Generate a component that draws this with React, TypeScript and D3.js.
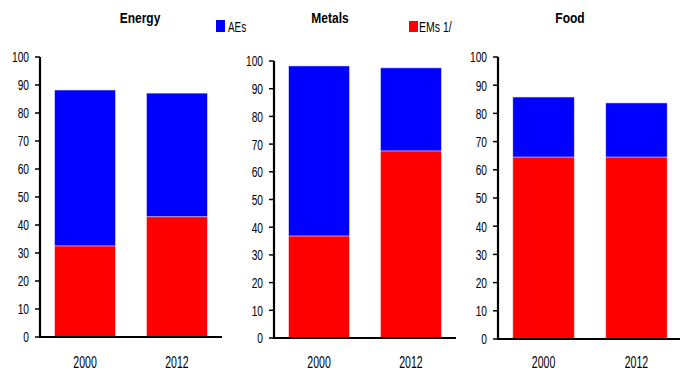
import React from "react";
import * as d3 from "d3";

const panels = ["Energy", "Metals", "Food"];
const years = ["2000", "2012"];
const emsValues = [
  [32.5, 42.9],
  [36.8, 67.5],
  [64.5, 64.5],
];
const aesValues = [
  [55.7, 44.2],
  [61.4, 30.0],
  [21.3, 19.2],
];
const yTicks = [0, 10, 20, 30, 40, 50, 60, 70, 80, 90, 100];
const seriesNames = ["AEs", "EMs 1/"];
const colors = { AEs: "#0000FF", EMs: "#FF0000" };

const layout = [
  { axisX: 40, right: 222, top: 57, bottom: 337, titleX: 140 },
  { axisX: 274, right: 456, top: 61, bottom: 338, titleX: 330 },
  { axisX: 498, right: 682, top: 57, bottom: 339, titleX: 570 },
];

const FONT = "'Liberation Sans', Arial, sans-serif";

function NText({
  x,
  y,
  sx = 0.68,
  size = 15,
  anchor = "start",
  bold = false,
  dy,
  children,
}: {
  x: number;
  y: number;
  sx?: number;
  size?: number;
  anchor?: string;
  bold?: boolean;
  dy?: string;
  children: React.ReactNode;
}) {
  return (
    <text
      transform={`translate(${x},${y}) scale(${sx},1)`}
      textAnchor={anchor as any}
      fontFamily={FONT}
      fontSize={size}
      fontWeight={bold ? "bold" : "normal"}
      dy={dy}
      fill="#000"
    >
      {children}
    </text>
  );
}

export default function App() {
  return (
    <svg width={680} height={375} style={{ position: "absolute", left: 0, top: 0, background: "#fff" }}>
      {panels.map((name, i) => {
        const L = layout[i];
        const y = d3.scaleLinear().domain([0, 100]).range([L.bottom, L.top]);
        const x = d3
          .scaleBand()
          .domain(years)
          .range([L.axisX, L.right])
          .paddingInner(0.34)
          .paddingOuter(0.16);
        return (
          <g key={name}>
            <NText x={L.titleX} y={23} anchor="middle" bold size={15} sx={0.8}>
              {name}
            </NText>
            {years.map((yr, j) => {
              const em = emsValues[i][j];
              const ae = aesValues[i][j];
              return (
                <g key={yr}>
                  <rect
                    x={x(yr)}
                    width={x.bandwidth()}
                    y={y(em + ae)}
                    height={y(em) - y(em + ae)}
                    fill={colors.AEs}
                    stroke="#d8d8ff"
                    strokeWidth={0.5}
                  />
                  <rect
                    x={x(yr)}
                    width={x.bandwidth()}
                    y={y(em)}
                    height={y(0) - y(em)}
                    fill={colors.EMs}
                    stroke="#ffd0d0"
                    strokeWidth={0.5}
                  />
                  <NText x={(x(yr) as number) + x.bandwidth() / 2} y={368} anchor="middle" size={16} sx={0.66}>
                    {yr}
                  </NText>
                </g>
              );
            })}
            {yTicks.map((t) => (
              <g key={t}>
                <line x1={L.axisX - 5} x2={L.axisX} y1={y(t)} y2={y(t)} stroke="#000" strokeWidth={1.5} />
                <NText x={L.axisX - 11} y={y(t)} dy="0.36em" anchor="end" size={15} sx={0.68}>
                  {t}
                </NText>
              </g>
            ))}
            <line x1={L.axisX} x2={L.axisX} y1={L.top} y2={L.bottom + 1} stroke="#000" strokeWidth={2.2} />
            <line x1={L.axisX - 1} x2={L.right} y1={L.bottom} y2={L.bottom} stroke="#000" strokeWidth={2.2} />
          </g>
        );
      })}
      <rect x={216} y={20} width={9} height={12} fill={colors.AEs} />
      <NText x={228} y={32} size={15} sx={0.66}>
        {seriesNames[0]}
      </NText>
      <rect x={409} y={21} width={9} height={11} fill={colors.EMs} />
      <NText x={419} y={32} size={15} sx={0.7}>
        {seriesNames[1]}
      </NText>
    </svg>
  );
}
